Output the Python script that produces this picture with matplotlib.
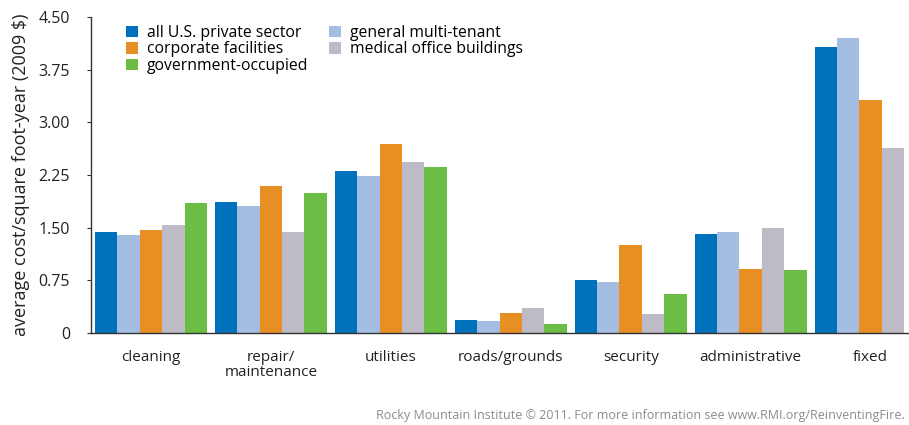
import numpy as np
import matplotlib
matplotlib.use('Agg')
import matplotlib.pyplot as plt

# --- Data ---
CATEGORIES = ['cleaning', 'repair/\nmaintenance', 'utilities', 'roads/grounds',
              'security', 'administrative', 'fixed']

SERIES_NAMES = ['all U.S. private sector', 'general multi-tenant', 'corporate facilities',
                'medical office buildings', 'government-occupied']

private_sector = [1.44, 1.86, 2.31, 0.19, 0.755, 1.41, 4.07]
multi_tenant = [1.40, 1.81, 2.24, 0.17, 0.72, 1.44, 4.20]
corporate = [1.46, 2.09, 2.69, 0.28, 1.25, 0.91, 3.32]
medical = [1.54, 1.44, 2.43, 0.36, 0.27, 1.50, 2.64]
government = [1.85, 2.00, 2.36, 0.13, 0.55, 0.90, np.nan]

Y_TICKS = [0, 0.75, 1.50, 2.25, 3.00, 3.75, 4.50]
Y_TICK_LABELS = ['0', '0.75', '1.50', '2.25', '3.00', '3.75', '4.50']

COLORS = ['#0071BD', '#A4BEE2', '#E88F23', '#BDBBC6', '#6CBD45']
FONT = ['Open Sans', 'DejaVu Sans']


def main():
    plt.rcParams['font.family'] = FONT

    fig = plt.figure(figsize=(9.09, 4.25), dpi=100)
    ax = fig.add_axes([0.100, 0.2165, 0.90, 0.7435])

    series = [private_sector, multi_tenant, corporate, medical, government]
    x = np.arange(len(CATEGORIES))
    width = 0.187
    bars = []
    for i, (vals, color) in enumerate(zip(series, COLORS)):
        vals = np.array(vals, dtype=float)
        ok = ~np.isnan(vals)
        offset = (i - 2) * width
        b = ax.bar(x[ok] + offset, vals[ok], width=width, color=color,
                   linewidth=0, label=SERIES_NAMES[i])
        bars.append(b)

    ax.set_xlim(-0.5, 6.32)
    ax.set_ylim(0, 4.5)
    ax.set_yticks(Y_TICKS)
    ax.set_yticklabels(Y_TICK_LABELS)
    ax.set_xticks(x)
    ax.set_xticklabels(CATEGORIES, linespacing=1.0)
    ax.tick_params(axis='x', length=0, pad=12, labelsize=11, colors='#222222')
    ax.tick_params(axis='y', length=3, width=0.8, pad=12, labelsize=11.5,
                   colors='#333333', labelcolor='#222222')

    for side in ['top', 'right']:
        ax.spines[side].set_visible(False)
    for side in ['left', 'bottom']:
        ax.spines[side].set_color('#333333')
        ax.spines[side].set_linewidth(1.0)

    ax.set_ylabel('average cost/square foot-year (2009 $)', fontsize=13,
                  color='#222222', labelpad=6)

    # legend order: first column then second column
    order = [0, 2, 4, 1, 3]
    ax.legend([bars[i] for i in order], [SERIES_NAMES[i] for i in order],
              ncol=2, loc='upper left', bbox_to_anchor=(0.035, 0.995),
              frameon=False, fontsize=11.3, handlelength=0.75, handleheight=0.75,
              handletextpad=0.6, columnspacing=1.3, labelspacing=0.04,
              borderaxespad=0)

    fig.text(0.995, 0.008, 'Rocky Mountain Institute \u00a9 2011. For more information see '
             'www.RMI.org/ReinventingFire.', ha='right', va='bottom',
             fontsize=9, color='#8c8c8c')

    fig.savefig('out.png', dpi=100)


if __name__ == "__main__":
    main()
